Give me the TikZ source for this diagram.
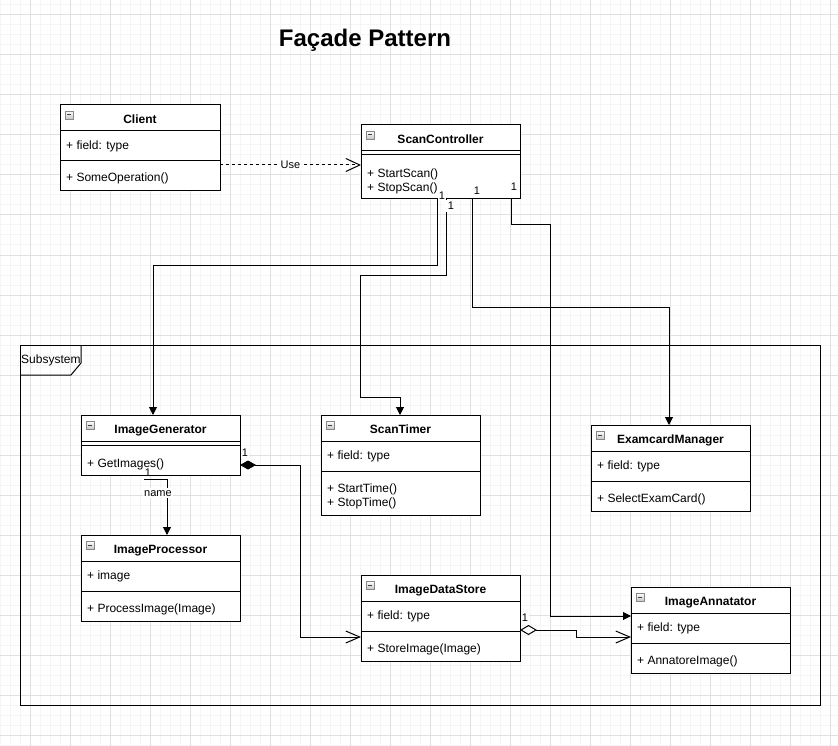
\documentclass[tikz,border=0pt]{standalone}
\usepackage{fontspec}
\setmainfont{Liberation Sans}
\usetikzlibrary{arrows.meta}
\definecolor{gmajor}{HTML}{E0E0E0}
\definecolor{gminor}{HTML}{F5F5F5}
\definecolor{icong}{HTML}{888888}
\tikzset{
  clsbox/.style={draw=black, line width=1pt, fill=white, inner sep=0pt, outer sep=0pt},
  sepline/.style={line width=1pt},
  ttl/.style={font=\fontsize{12}{14}\selectfont\bfseries, inner sep=0pt, text height=8.6pt, text depth=0pt},
  mem/.style={font=\fontsize{12}{14}\selectfont, anchor=west, inner sep=0pt, text height=8.6pt, text depth=0pt},
  mult/.style={font=\fontsize{11}{13}\selectfont, fill=white, inner xsep=1.2pt, inner ysep=1pt, text height=7.9pt, text depth=0pt},
  lbl/.style={font=\fontsize{11}{13}\selectfont, fill=white, inner sep=1pt, text height=7.9pt, text depth=0pt},
  edge/.style={line width=1pt, draw=black},
  assoc/.style={edge, -{Triangle[length=8pt,width=8pt]}},
  dep/.style={edge, dash pattern=on 3pt off 3pt, -{Straight Barb[length=14pt,width=13pt]}},
  comp/.style={edge, {Diamond[length=16pt,width=9pt]}-{Straight Barb[length=14pt,width=12pt]}},
  aggr/.style={edge, {Diamond[fill=white,length=17pt,width=10pt]}-{Straight Barb[length=14pt,width=12pt]}},
  frame/.style={draw=black, line width=1pt, inner sep=0pt, outer sep=0pt},
}
\newcommand\clsicon[1]{%
  \draw[icong, line width=0.8pt, top color=white, bottom color=gray!45]
    ([xshift=5pt,yshift=-6pt]#1.north west) rectangle ++(8,8);
  \draw[black!75, line width=1pt] ([xshift=7pt,yshift=-10pt]#1.north west) -- ++(4,0);
}
\newcommand\hsep[2]{\draw[sepline] (#1.west |- 0,#2) -- (#1.east |- 0,#2);}
\begin{document}
\begin{tikzpicture}[x=1pt,y=-1pt]
\useasboundingbox (0,0) rectangle (838,746);
\fill[white] (0,0) rectangle (838,746);
% grid
\foreach \x in {0,10,...,830} \draw[gminor, line width=1pt] (\x,0) -- (\x,746);
\foreach \y in {5,15,...,745} \draw[gminor, line width=1pt] (0,\y) -- (838,\y);
\foreach \x in {30,70,...,830} \draw[gmajor, line width=1pt] (\x,0) -- (\x,746);
\foreach \y in {15,55,...,735} \draw[gmajor, line width=1pt] (0,\y) -- (838,\y);

% title
\node[font=\fontsize{24}{28}\selectfont\bfseries, inner sep=0pt, text height=17.2pt, text depth=0pt] (title) at (365,38) {Façade Pattern};

% subsystem frame
\node[frame, minimum width=799.5pt, minimum height=359.5pt, anchor=north west] (subsystem) at (20.5,345.5) {};
\draw[line width=1pt] (subsystem.west |- 0,375) -- (71,375) -- (81,363) -- (subsystem.north -| 81,0);
\node[mem] (subsyslabel) at (21,359) {Subsystem};

% Client
\node[clsbox, minimum width=160pt, minimum height=86pt, anchor=north west] (client) at (60,105) {};
\clsicon{client}
\hsep{client}{131}\hsep{client}{161}
\node[ttl] (clientT) at (140,119) {Client};
\node[mem] (clientF) at (66,145) {+ field: type};
\node[mem] (clientM) at (66,177) {+ SomeOperation()};

% ScanController
\node[clsbox, minimum width=159pt, minimum height=74pt, anchor=north west] (sc) at (361,125) {};
\clsicon{sc}
\hsep{sc}{151}\hsep{sc}{155}
\node[ttl] (scT) at (440.5,139) {ScanController};
\node[mem] (scM1) at (367,173) {+ StartScan()};
\node[mem] (scM2) at (367,187) {+ StopScan()};

% ImageGenerator
\node[clsbox, minimum width=159pt, minimum height=60pt, anchor=north west] (ig) at (81,415) {};
\clsicon{ig}
\hsep{ig}{441}\hsep{ig}{445}
\node[ttl] (igT) at (160.5,429) {ImageGenerator};
\node[mem] (igM) at (87,463) {+ GetImages()};

% ScanTimer
\node[clsbox, minimum width=159pt, minimum height=100pt, anchor=north west] (st) at (321,415) {};
\clsicon{st}
\hsep{st}{441}\hsep{st}{471}
\node[ttl] (stT) at (400.5,429) {ScanTimer};
\node[mem] (stF) at (327,455) {+ field: type};
\node[mem] (stM1) at (327,488) {+ StartTime()};
\node[mem] (stM2) at (327,502) {+ StopTime()};

% ExamcardManager
\node[clsbox, minimum width=159pt, minimum height=86pt, anchor=north west] (em) at (591,425) {};
\clsicon{em}
\hsep{em}{451}\hsep{em}{481}
\node[ttl] (emT) at (670.5,439) {ExamcardManager};
\node[mem] (emF) at (597,465) {+ field: type};
\node[mem] (emM) at (597,498) {+ SelectExamCard()};

% ImageProcessor
\node[clsbox, minimum width=159pt, minimum height=86pt, anchor=north west] (ip) at (81,535) {};
\clsicon{ip}
\hsep{ip}{561}\hsep{ip}{591}
\node[ttl] (ipT) at (160.5,549) {ImageProcessor};
\node[mem] (ipF) at (87,575) {+ image};
\node[mem] (ipM) at (87,608) {+ ProcessImage(Image)};

% ImageDataStore
\node[clsbox, minimum width=159pt, minimum height=86pt, anchor=north west] (ids) at (361,575) {};
\clsicon{ids}
\hsep{ids}{601}\hsep{ids}{631}
\node[ttl] (idsT) at (440.5,589) {ImageDataStore};
\node[mem] (idsF) at (367,615) {+ field: type};
\node[mem] (idsM) at (367,648) {+ StoreImage(Image)};

% ImageAnnatator
\node[clsbox, minimum width=159pt, minimum height=86pt, anchor=north west] (ia) at (631,587) {};
\clsicon{ia}
\hsep{ia}{613}\hsep{ia}{643}
\node[ttl] (iaT) at (710.5,601) {ImageAnnatator};
\node[mem] (iaF) at (637,627) {+ field: type};
\node[mem] (iaM) at (637,660) {+ AnnatoreImage()};

% connectors
\draw[dep] (client.east |- 0,165) -- node[lbl] (uselbl) {Use} (sc.west |- 0,165);
\draw[assoc] (sc.south -| 437,0) -- (437,265) -- (153,265) -- (ig.north -| 153,0);
\draw[assoc] (sc.south -| 446,0) -- (446,275) -- (360,275) -- (360,397) -- (400,397) -- (st.north -| 400,0);
\draw[assoc] (sc.south -| 472,0) -- (472,307) -- (669,307) -- (em.north -| 669,0);
\draw[assoc] (sc.south -| 511,0) -- (511,225) -- (550,225) -- (550,616) -- (ia.west |- 0,616);
\coordinate (igsrc) at (144,479);
\draw[assoc] (igsrc) -- (167,479) -- (ip.north -| 167,0);
\draw[comp] (ig.east |- 0,465) -- (300,465) -- (300,637) -- (ids.west |- 0,637);
\draw[aggr] (ids.east |- 0,630) -- (576,630) -- (576,637) -- (ia.west |- 0,637);

% labels
\node[lbl] (namelbl) at (158,493) {name};
\node[mult] (m1) at (442,196) {1};
\node[mult, inner xsep=2.5pt, inner ysep=2pt] (m2) at (451,206) {1};
\node[mult] (m3) at (477,191) {1};
\node[mult, fill=none] (m4) at (514,187) {1};
\node[mult, fill=none] (m5) at (148,473) {1};
\node[mult] (m6) at (245,453) {1};
\node[mult] (m7) at (525,618) {1};
\end{tikzpicture}
\end{document}
